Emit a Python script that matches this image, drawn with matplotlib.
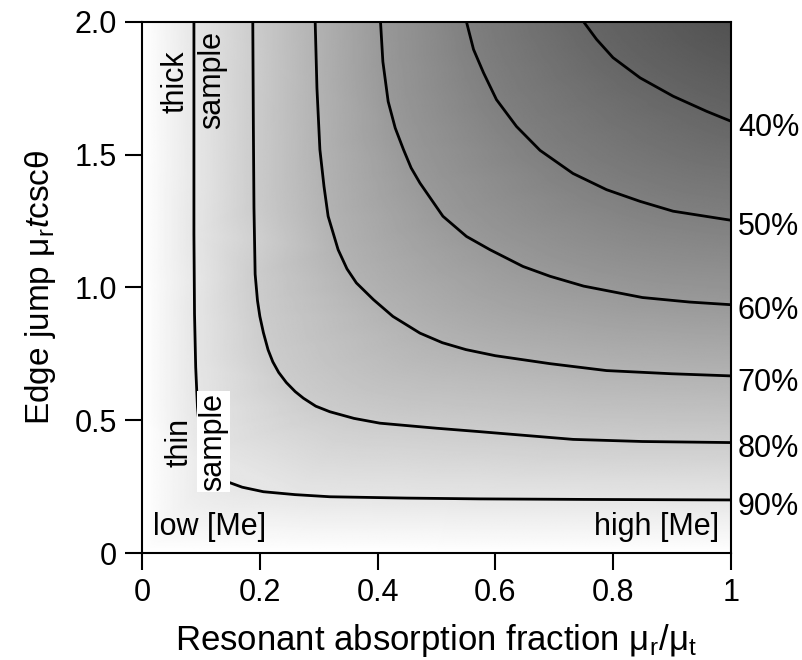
import numpy as np
import matplotlib
matplotlib.use('Agg')
import matplotlib.pyplot as plt
import matplotlib.tri as mtri

plt.rcParams['font.family'] = ['Liberation Sans', 'DejaVu Sans']
plt.rcParams['mathtext.fontset'] = 'custom'
plt.rcParams['mathtext.rm'] = 'Liberation Sans'
plt.rcParams['mathtext.it'] = 'Liberation Sans:italic'

# contour lines (x = mu_r/mu_t, y = edge jump)
levels = [90, 80, 70, 60, 50, 40]
level_labels = ['90%', '80%', '70%', '60%', '50%', '40%']

x90 = [0.088, 0.088, 0.089, 0.091, 0.094, 0.098, 0.105, 0.12, 0.144, 0.17, 0.206, 0.26, 0.319, 0.45, 0.574, 0.75, 1.0]
y90 = [2.0, 1.2, 0.9, 0.7, 0.55, 0.45, 0.38, 0.31, 0.269, 0.248, 0.231, 0.22, 0.212, 0.207, 0.204, 0.202, 0.200]
x80 = [0.188, 0.189, 0.190, 0.192, 0.196, 0.2, 0.206, 0.214, 0.222, 0.232, 0.245, 0.26, 0.274, 0.295, 0.319, 0.36, 0.404, 0.5, 0.574, 0.732, 0.85, 1.0]
y80 = [2.0, 1.6, 1.3, 1.05, 0.95, 0.891, 0.83, 0.765, 0.72, 0.68, 0.642, 0.608, 0.583, 0.553, 0.532, 0.507, 0.489, 0.47, 0.457, 0.428, 0.42, 0.416]
x70 = [0.294, 0.297, 0.302, 0.309, 0.316, 0.333, 0.348, 0.364, 0.393, 0.426, 0.472, 0.51, 0.55, 0.60, 0.693, 0.789, 0.9, 1.0]
y70 = [2.0, 1.75, 1.519, 1.38, 1.268, 1.142, 1.07, 1.017, 0.954, 0.891, 0.828, 0.792, 0.766, 0.743, 0.713, 0.687, 0.675, 0.667]
x60 = [0.405, 0.409, 0.418, 0.43, 0.444, 0.457, 0.472, 0.511, 0.551, 0.591, 0.647, 0.693, 0.75, 0.85, 0.93, 1.0]
y60 = [2.0, 1.85, 1.7, 1.6, 1.519, 1.45, 1.393, 1.268, 1.192, 1.142, 1.079, 1.042, 1.005, 0.962, 0.945, 0.935]
x50 = [0.551, 0.563, 0.580, 0.602, 0.636, 0.676, 0.732, 0.789, 0.846, 0.902, 1.0]
y50 = [2.0, 1.896, 1.808, 1.707, 1.606, 1.516, 1.429, 1.368, 1.324, 1.287, 1.253]
x40 = [0.75, 0.772, 0.80, 0.846, 0.902, 0.959, 1.0]
y40 = [2.0, 1.934, 1.865, 1.789, 1.72, 1.663, 1.626]

lines_x = [x90, x80, x70, x60, x50, x40]
lines_y = [y90, y80, y70, y60, y50, y40]

# edge values for the shading (percent)
edge_x = [0, 0.25, 0.5, 0.75, 1.0, 0, 0, 0, 0, 1.0]
edge_y = [0, 0, 0, 0, 0, 0.5, 1.0, 1.5, 2.0, 2.0]
edge_v = [100, 100, 100, 100, 100, 100, 100, 100, 100, 32]

fig = plt.figure(figsize=(8.03, 6.6), dpi=100)
ax = fig.add_axes([0.177, 0.162, 0.733, 0.805])

# background shading interpolated between the read contour values
px, py, pv = list(edge_x), list(edge_y), list(edge_v)
for lx, ly, lv in zip(lines_x, lines_y, levels):
    px += lx
    py += ly
    pv += [lv] * len(lx)
tri = mtri.Triangulation(px, py)
interp = mtri.LinearTriInterpolator(tri, np.array(pv, dtype=float))
gx, gy = np.meshgrid(np.linspace(0, 1, 500), np.linspace(0, 2, 500))
gz = interp(gx, gy)
ax.imshow(gz, extent=[0, 1, 0, 2], origin='lower', cmap='gray', vmin=0, vmax=100,
          aspect='auto', interpolation='bilinear')

for lx, ly, lab in zip(lines_x, lines_y, level_labels):
    ax.plot(lx, ly, color='black', lw=2, solid_capstyle='butt', solid_joinstyle='round')
    ax.text(1.012, ly[-1] - 0.025, lab, transform=ax.get_yaxis_transform(),
            ha='left', va='center', fontsize=22)

ax.text(0.056, 1.775, 'thick', rotation=90, ha='center', va='center', fontsize=22)
ax.text(0.119, 1.78, 'sample', rotation=90, ha='center', va='center', fontsize=22)
ax.text(0.064, 0.415, 'thin', rotation=90, ha='center', va='center', fontsize=22)
ax.text(0.121, 0.42, 'sample', rotation=90, ha='center', va='center', fontsize=22,
        bbox=dict(facecolor='white', edgecolor='none', pad=1))
ax.text(0.018, 0.098, 'low [Me]', ha='left', va='center', fontsize=22)
ax.text(0.98, 0.098, 'high [Me]', ha='right', va='center', fontsize=22)

ax.set_xlim(0, 1)
ax.set_ylim(0, 2)
ax.set_xticks([0, 0.2, 0.4, 0.6, 0.8, 1.0])
ax.set_xticklabels(['0', '0.2', '0.4', '0.6', '0.8', '1'])
ax.set_yticks([0, 0.5, 1.0, 1.5, 2.0])
ax.set_yticklabels(['0', '0.5', '1.0', '1.5', '2.0'])
ax.tick_params(direction='out', length=12, width=1.5, labelsize=22, pad=6)
for s in ax.spines.values():
    s.set_linewidth(1.5)

ax.set_xlabel(r'Resonant absorption fraction μ$_\mathrm{r}$/μ$_\mathrm{t}$', fontsize=25, labelpad=10)
ax.set_ylabel(r'Edge jump μ$_\mathrm{r}$$t$cscθ', fontsize=24, labelpad=12)

fig.savefig('out.png', dpi=100)
